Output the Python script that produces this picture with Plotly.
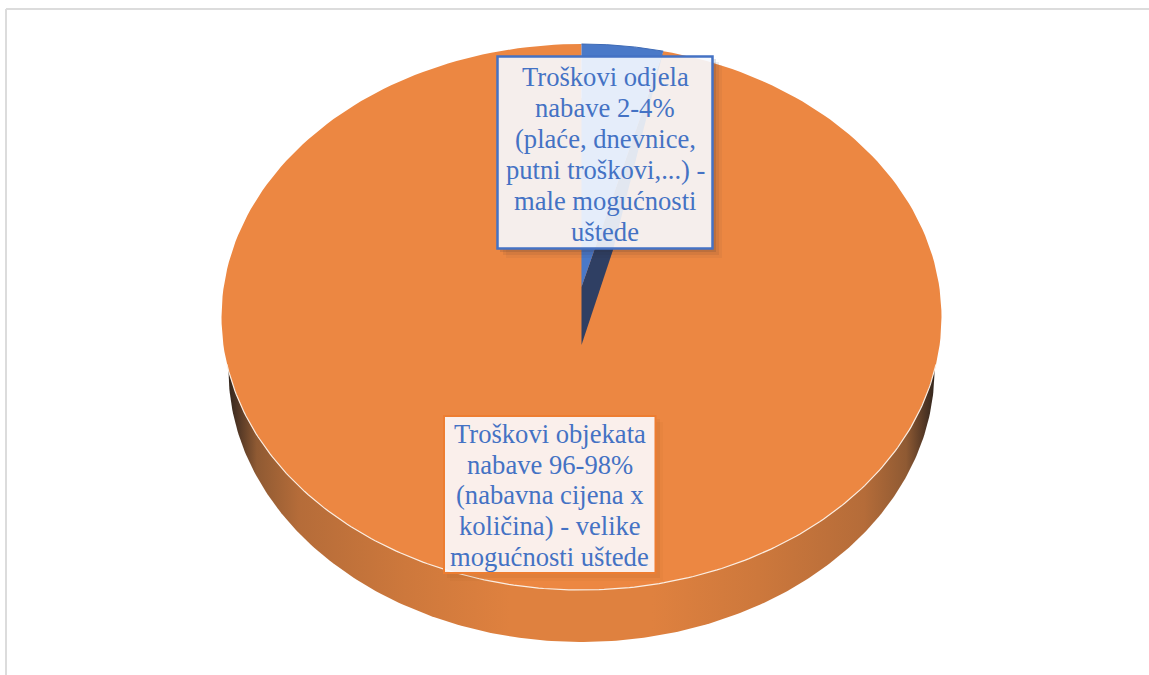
import numpy as np
import plotly.graph_objects as go

# --- data ---
categories = ["Troškovi odjela nabave", "Troškovi objekata nabave"]
shares = [3.65, 96.35]
label_lines_dept = ["Troškovi odjela", "nabave 2-4%", "(plaće, dnevnice,", "putni troškovi,...) -", "male mogućnosti", "uštede"]
label_lines_obj = ["Troškovi objekata", "nabave 96-98%", "(nabavna cijena x", "količina) - velike", "mogućnosti uštede"]

# --- drawing geometry (pixel-like axis units) ---
W, H = 1149, 675
CX, CY, RX, RY = 581.5, 317, 360, 273      # top face
BCY, BRX, BRY = 370, 353, 272              # lower rim
APEX_Y, APEX_LOW_Y = 287, 345              # perspective centre of top face and its lower end
WALL_KNEE = (613, 250)                     # bend of the visible inner wall
BLUE, BLUE_DARK, ORANGE = "#4a79c8", "#2f3f63", "#ec8742"
TEXT = "#4472c4"


def arc(t0, t1, n=240, cy=CY, rx=RX, ry=RY):
    t = np.radians(np.linspace(t0, t1, n))
    return CX + rx * np.sin(t), cy - ry * np.cos(t)


end_deg = shares[0] / sum(shares) * 360
fig = go.Figure()

# lower rim, drawn first; the top face covers all but its front
bx, by = arc(0, 360, 480, BCY, BRX, BRY)
fig.add_trace(go.Scatter(
    x=bx, y=by, mode="lines", line=dict(width=0), fill="toself", hoverinfo="skip", showlegend=False,
    fillgradient=dict(type="horizontal", colorscale=[
        [0.00, "#33261d"], [0.012, "#4d3424"], [0.04, "#8f5a33"], [0.10, "#b56c39"],
        [0.25, "#cd783c"], [0.40, "#df813f"], [0.60, "#df813f"], [0.75, "#cd783c"],
        [0.90, "#b56c39"], [0.96, "#8f5a33"], [0.988, "#4d3424"], [1.00, "#33261d"]])))

# orange slice + white rim highlight
ox, oy = arc(end_deg, 360)
fig.add_trace(go.Scatter(
    x=np.r_[CX, ox, CX], y=np.r_[APEX_Y, oy, APEX_Y], mode="lines",
    line=dict(width=0), fill="toself", fillcolor=ORANGE,
    name=categories[1], text=f"{categories[1]}: {shares[1]}%", hoverinfo="text", showlegend=False))
hx, hy = arc(100, 260, 200)
fig.add_trace(go.Scatter(x=hx, y=hy, mode="lines", line=dict(width=1.2, color="#fbeee3"),
                         hoverinfo="skip", showlegend=False))

# blue slice: inner wall then top
sx, sy = arc(0, end_deg, 40)
fig.add_trace(go.Scatter(
    x=[CX, CX, WALL_KNEE[0], sx[-1], CX], y=[APEX_Y, APEX_LOW_Y, WALL_KNEE[1], sy[-1], APEX_Y], mode="lines",
    line=dict(width=0), fill="toself", fillcolor=BLUE_DARK, hoverinfo="skip", showlegend=False))
fig.add_trace(go.Scatter(
    x=np.r_[CX, sx, CX], y=np.r_[APEX_Y, sy, APEX_Y], mode="lines",
    line=dict(width=0), fill="toself", fillcolor=BLUE,
    name=categories[0], text=f"{categories[0]}: {shares[0]}%", hoverinfo="text", showlegend=False))
fig.add_trace(go.Scatter(x=sx, y=sy, mode="lines", line=dict(width=1, color="#3e6ab5"),
                         hoverinfo="skip", showlegend=False))


def shadow(x0, y0, x1, y1, color, steps):
    """soft L-shaped shadow, right and below a label box"""
    out = []
    for d, a in steps:
        out.append(dict(type="path", xref="x", yref="y", layer="above", line=dict(width=0),
                        fillcolor=f"rgba({color},{a})",
                        path=f"M{x1},{y0 + d} L{x1 + d},{y0 + d} L{x1 + d},{y1 + d} L{x0 + d},{y1 + d} L{x0 + d},{y1} L{x1},{y1} Z"))
    return out


def box(x0, y0, x1, y1, fill, edge, width):
    return dict(type="rect", xref="x", yref="y", layer="above", x0=x0, x1=x1, y0=y0, y1=y1,
                fillcolor=fill, line=dict(color=edge, width=width))


shapes = shadow(497, 56, 713, 249, "40,40,50", ((9, 0.05), (6, 0.08), (3, 0.13)))
shapes += shadow(443, 415, 656, 574, "130,70,20", ((7, 0.05), (4, 0.07)))
shapes += [
    box(497.5, 56.5, 712.5, 248.5, "rgba(246,250,255,0.9)", "#4472c4", 2.5),
    box(444, 416, 655.5, 573, "rgba(252,251,254,0.9)", "#ed7d31", 2),
    # page frame: top and left hairlines only
    dict(type="line", xref="x", yref="y", x0=6, x1=W, y0=9, y1=9, line=dict(color="#dcdcdc", width=2)),
    dict(type="line", xref="x", yref="y", x0=6, x1=6, y0=9, y1=H, line=dict(color="#dcdcdc", width=2)),
]

font = dict(family="Liberation Serif", size=26.6, color=TEXT)


def line_notes(lines, x, y_first, pitch):
    return [dict(x=x, y=y_first + i * pitch, xref="x", yref="y", showarrow=False, text=s, font=font,
                 xanchor="center", yanchor="middle", align="center") for i, s in enumerate(lines)]


annotations = line_notes(label_lines_dept, 605, 77, 30.9) + line_notes(label_lines_obj, 549.5, 434, 30.7)

fig.update_layout(
    width=W, height=H, margin=dict(l=0, r=0, t=0, b=0),
    paper_bgcolor="white", plot_bgcolor="white", showlegend=False,
    xaxis=dict(range=[0, W], visible=False, fixedrange=True),
    yaxis=dict(range=[H, 0], visible=False, fixedrange=True),
    shapes=shapes, annotations=annotations,
)
fig.write_html("out.html", config={"displayModeBar": False},
               post_script="document.body.style.margin='0';document.body.style.overflow='hidden';")
